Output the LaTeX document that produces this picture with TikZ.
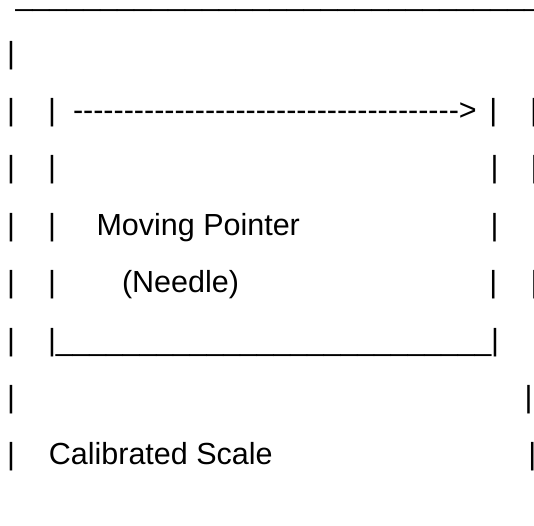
\documentclass[tikz,border=0pt]{standalone}
\usepackage{fontspec}
\setmainfont{Liberation Sans}
% one character in its own box, repeated
\newcommand\glyphrun[2]{\foreach \k in {1,...,#1}{\hbox{#2}}}
\begin{document}
\begin{tikzpicture}[x=1pt,y=1pt,
  glyph/.style={anchor=base west, inner sep=0pt, outer sep=0pt,
    font=\fontsize{30.5}{30.5}\selectfont, text=black}]
\useasboundingbox (0,0) rectangle (534,-525);
\clip (0,0) rectangle (534,-525);

% row 1: top rule
\node[glyph] (topline) at (15.5,-5.8) {\glyphrun{31}{\_}};

% row 2
\node[glyph] (b2l) at (7,-63.2) {|};

% row 3: pointer travel
\node[glyph] (b3l) at (7,-120.5) {|};
\node[glyph] (b3i) at (48,-120.5) {|};
\node[glyph] (travel) at (73,-120.5) {\glyphrun{38}{-}>};
\node[glyph] (b3r) at (489.3,-120.5) {|};
\node[glyph] (b3o) at (530,-120.5) {|};

% row 4
\node[glyph] (b4l) at (7,-177.6) {|};
\node[glyph] (b4i) at (48,-177.6) {|};
\node[glyph] (b4r) at (490.7,-177.6) {|};
\node[glyph] (b4o) at (530.6,-177.6) {|};

% row 5
\node[glyph] (b5l) at (7,-235.9) {|};
\node[glyph] (b5i) at (48,-235.9) {|};
\node[glyph] (pointer) at (96.5,-235.9) {Moving Pointer};
\node[glyph] (b5r) at (490.7,-235.9) {|};

% row 6
\node[glyph] (b6l) at (7,-292.6) {|};
\node[glyph] (b6i) at (48,-292.6) {|};
\node[glyph] (needle) at (122,-292.6) {(Needle)};
\node[glyph] (b6r) at (489.3,-292.6) {|};
\node[glyph] (b6o) at (530.6,-292.6) {|};

% row 7: bottom of the pointer box
\node[glyph] (b7l) at (7,-350.6) {|};
\node[glyph] (b7i) at (48,-350.6) {|};
\node[glyph] (boxfloor) at (55.9,-350.6) {\scalebox{0.9875}[1]{\glyphrun{26}{\_}}};
\node[glyph] (b7r) at (491,-350.6) {|};

% row 8
\node[glyph] (b8l) at (7,-407.6) {|};
\node[glyph] (b8r) at (524.7,-407.6) {|};

% row 9: scale label
\node[glyph] (b9l) at (7,-464.6) {|};
\node[glyph] (scale) at (48.9,-464.6) {Calibrated Scale};
\node[glyph] (b9r) at (528.3,-464.6) {|};
\end{tikzpicture}
\end{document}
